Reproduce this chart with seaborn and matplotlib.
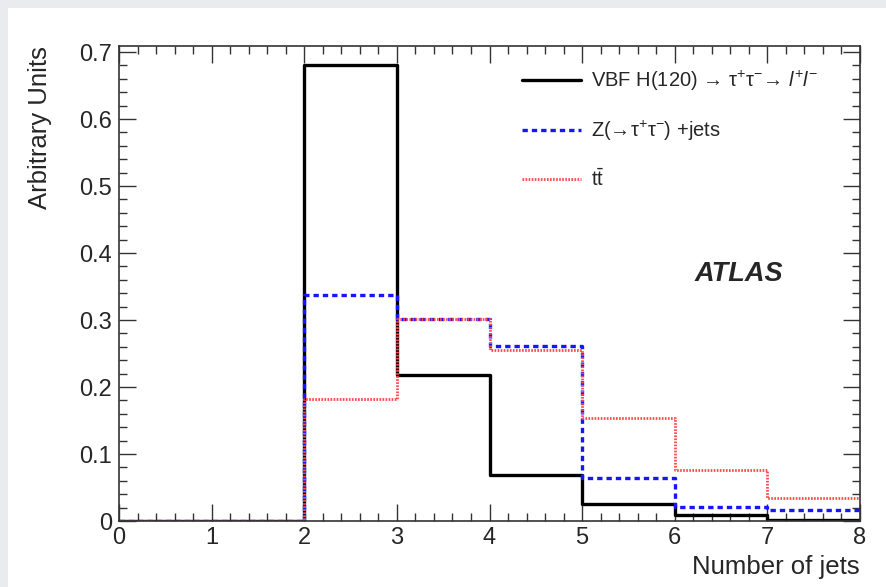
import seaborn as sns
import matplotlib.pyplot as plt
import matplotlib.patches as mpatches
from matplotlib.ticker import MultipleLocator
import numpy as np

# bin edges and normalised contents
bin_edges = [0, 1, 2, 3, 4, 5, 6, 7, 8]
bin_centers = [0.5, 1.5, 2.5, 3.5, 4.5, 5.5, 6.5, 7.5]
vbf_higgs = [0.0, 0.0, 0.680, 0.218, 0.068, 0.025, 0.009, 0.002]
z_jets = [0.0, 0.0, 0.337, 0.302, 0.261, 0.064, 0.021, 0.017]
ttbar = [0.0, 0.0, 0.182, 0.302, 0.255, 0.154, 0.076, 0.035]

labels = ['VBF H(120) → τ$^{+}$τ$^{-}$→ $l^{+}l^{-}$',
          'Z(→τ$^{+}$τ$^{-}$) +jets',
          r'$\mathrm{t\bar{t}}$']

sns.set_style('ticks')
plt.rcParams['font.family'] = ['Liberation Sans', 'DejaVu Sans']
plt.rcParams['mathtext.fontset'] = 'custom'
plt.rcParams['mathtext.rm'] = 'Liberation Sans'
plt.rcParams['mathtext.it'] = 'Liberation Sans:italic'

fig = plt.figure(figsize=(8.86, 5.87), dpi=100)
fig.patch.set_facecolor('#e9ebee')
fig.patches.append(mpatches.Rectangle((8 / 886, 0), 1, 1 - 8 / 587, transform=fig.transFigure,
                                      facecolor='white', edgecolor='none', zorder=-10))
ax = fig.add_axes([119 / 886, 1 - 521 / 587, 741 / 886, 475 / 587])
ax.set_zorder(5)

styles = [
    dict(color='black', linewidth=2.4, linestyle='-'),
    dict(color='#1515ff', linewidth=2.4, linestyle=(0, (1.6, 1.2))),
    dict(color='#ff4a4a', linewidth=2.0, linestyle=(0, (0.6, 0.5))),
]
for vals, lab, st in zip([vbf_higgs, z_jets, ttbar], labels, styles):
    sns.histplot(x=bin_centers, weights=vals, bins=bin_edges, element='step', fill=False,
                 ax=ax, label=lab, **st)

ax.set_xlim(0, 8)
ax.set_ylim(0, 0.709)
ax.xaxis.set_major_locator(MultipleLocator(1))
ax.xaxis.set_minor_locator(MultipleLocator(0.2))
ax.yaxis.set_minor_locator(MultipleLocator(0.02))
ax.set_yticks(np.arange(0, 0.71, 0.1))
ax.set_yticklabels(['0' if abs(t) < 1e-9 else f'{t:.1f}' for t in ax.get_yticks()])
ax.tick_params(which='both', direction='in', top=True, right=True, labelsize=17, color='#333333')
ax.tick_params(which='major', length=12, width=1)
ax.tick_params(which='minor', length=6, width=1)
ax.tick_params(axis='x', pad=4)
ax.tick_params(axis='y', pad=5)
for sp in ax.spines.values():
    sp.set_linewidth(1.2)
    sp.set_color('#333333')

ax.set_xlabel('Number of jets', fontsize=18.5, ha='right', x=1.0)
ax.xaxis.set_label_coords(1.0, -0.072)
ax.set_ylabel('Arbitrary Units', fontsize=18.5, ha='right', y=1.0)
ax.yaxis.set_label_coords(-0.09, 1.0)

ax.text(0.837, 0.52, 'ATLAS', transform=ax.transAxes, fontsize=19.5, fontweight='bold',
        fontstyle='italic', ha='center', va='center')

handles, labs = ax.get_legend_handles_labels()
ax.legend(handles, labs, loc='upper left', bbox_to_anchor=(0.52, 0.99), frameon=False,
          fontsize=14.5, handlelength=2.9, labelspacing=1.28, handletextpad=0.5)

fig.savefig('out.png', dpi=100, facecolor=fig.get_facecolor())
